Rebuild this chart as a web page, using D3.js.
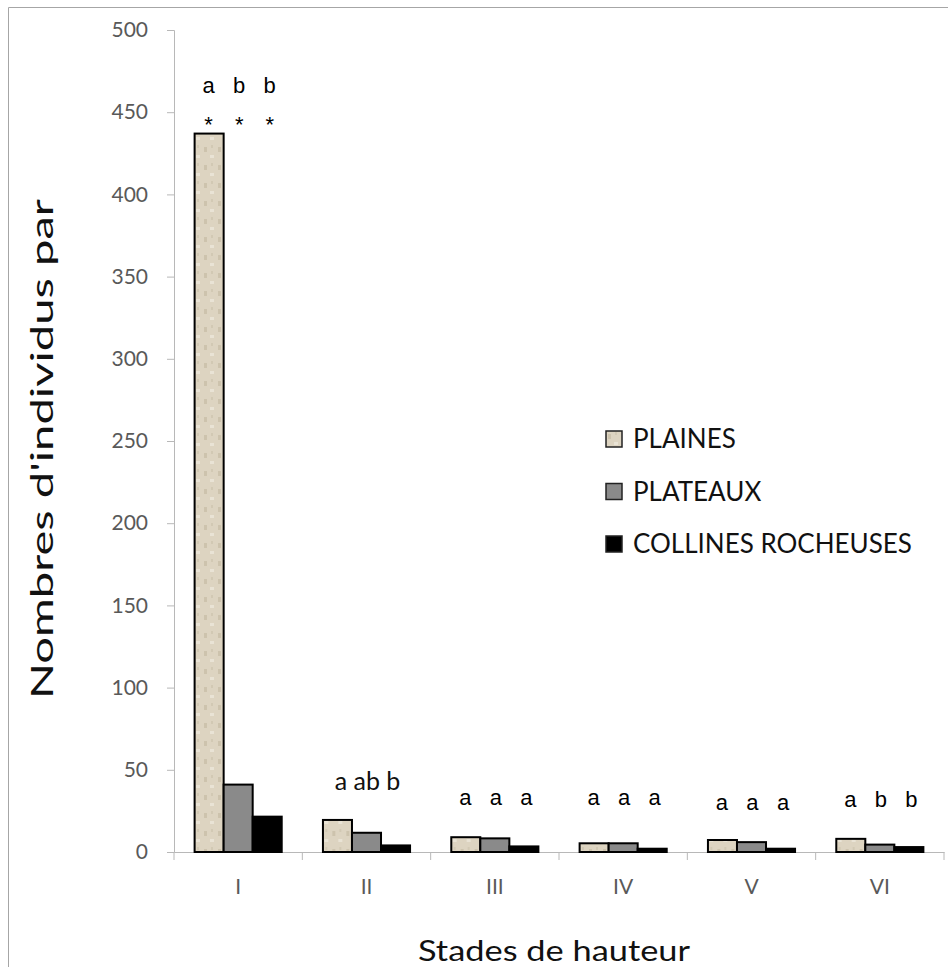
<!DOCTYPE html>
<html>
  <head>
    <meta charset="utf-8">
    <title>Stades de hauteur</title>
    <script src="https://cdn.jsdelivr.net/npm/d3@7"></script>
    <style>
      body { margin: 0; background: #fff; }
      svg text { font-family: Lato, "Open Sans", sans-serif; }
      .axis path, .axis line { stroke: #b8b8b8; }
      .axis text { fill: #595959; font-size: 21px; }
      .letters text { font-family: "Liberation Sans", Arial, sans-serif; font-size: 22px; fill: #000; }
      .letters text.joined { font-family: Lato, sans-serif; font-size: 25px; fill: #111; }
    </style>
  </head>
  <body>
    <svg id="chart" width="948" height="967"></svg>
    <script>
      // data
      stades = ["I", "II", "III", "IV", "V", "VI"];
      series = ["PLAINES", "PLATEAUX", "COLLINES ROCHEUSES"];
      plaines = [437, 19.5, 9, 5.3, 7.3, 8];
      plateaux = [41, 11.7, 8.3, 5.3, 6, 4.5];
      collines = [21.5, 4, 3.4, 2, 2, 3];
      yTicks = [0, 50, 100, 150, 200, 250, 300, 350, 400, 450, 500];
      letters = [["a", "b", "b"], ["a ab b"], ["a", "a", "a"], ["a", "a", "a"], ["a", "a", "a"], ["a", "b", "b"]];
      letterLevel = [461.5, 37.7, 28.6, 28.6, 25.5, 27.4];
      stars = ["*", "*", "*"];
      starLevel = 443;
      colours = ["url(#sand)", "#8a8a8a", "#000000"];

      values = [plaines, plateaux, collines];

      chart = d3.select("#chart");

      // sandy fill for the plains bars
      pattern = chart.append("defs")
        .append("pattern")
          .attr("id", "sand")
          .attr("patternUnits", "userSpaceOnUse")
          .attr("width", 14)
          .attr("height", 18);
      pattern.append("rect")
        .attr("width", 14)
        .attr("height", 18)
        .attr("fill", "#ddd4c1");
      pattern.append("rect")
        .attr("x", 2).attr("y", 3).attr("width", 3).attr("height", 5)
        .attr("fill", "#cdc3ad");
      pattern.append("rect")
        .attr("x", 8).attr("y", 11).attr("width", 4).attr("height", 3)
        .attr("fill", "#e9e3d5");
      pattern.append("rect")
        .attr("x", 9).attr("y", 1).attr("width", 2).attr("height", 3)
        .attr("fill", "#d2c9b4");

      // frame
      chart.append("path")
        .attr("d", "M8.5,967V7.5H948")
        .attr("fill", "none")
        .attr("stroke", "#a6a6a6");

      // scales
      scaleX = d3.scaleBand()
        .domain(stades)
        .range([174, 944]);

      scaleSeries = d3.scaleBand()
        .domain(series)
        .range([0, scaleX.bandwidth()])
        .paddingOuter(0.71);

      scaleY = d3.scaleLinear()
        .domain([0, 500])
        .range([852, 30]);

      // axes
      yAxisGroup = chart.append("g")
        .attr("class", "axis")
        .attr("transform", "translate(174, 0)")
        .call(d3.axisLeft(scaleY).tickValues(yTicks).tickSize(7).tickSizeOuter(7).tickPadding(19));

      xAxisGroup = chart.append("g")
        .attr("class", "axis")
        .attr("transform", "translate(0, 852)")
        .call(d3.axisBottom(scaleX).tickSize(0).tickSizeOuter(0).tickPadding(27));

      xAxisGroup.selectAll(".bound")
          .data(d3.range(stades.length + 1))
        .enter().append("line")
          .attr("class", "bound")
          .attr("x1", d => d < stades.length ? scaleX(stades[d]) : scaleX.range()[1])
          .attr("x2", d => d < stades.length ? scaleX(stades[d]) : scaleX.range()[1])
          .attr("y1", 0)
          .attr("y2", 8);

      // bars
      groups = chart.append("g")
        .selectAll("g")
          .data(stades)
        .enter().append("g")
          .attr("transform", d => "translate(" + scaleX(d) + ", 0)");

      groups.selectAll("rect")
          .data((d, i) => series.map((s, j) => ({ s: s, v: values[j][i], j: j })))
        .enter().append("rect")
          .attr("x", d => scaleSeries(d.s))
          .attr("width", scaleSeries.bandwidth())
          .attr("y", d => scaleY(d.v))
          .attr("height", d => scaleY(0) - scaleY(d.v))
          .attr("fill", d => colours[d.j])
          .attr("stroke", "#000")
          .attr("stroke-width", 2);

      // significance letters
      letterGroups = chart.append("g")
        .attr("class", "letters")
        .selectAll("g")
          .data(stades)
        .enter().append("g")
          .attr("transform", d => "translate(" + scaleX(d) + ", 0)");

      letterGroups.selectAll("text.l")
          .data((d, i) => letters[i].map(t => ({ t: t, i: i, n: letters[i].length })))
        .enter().append("text")
          .attr("class", d => d.n == 1 ? "l joined" : "l")
          .attr("x", (d, k) => d.n == 1 ? scaleX.bandwidth() / 2 + 1 : scaleSeries(series[k]) + scaleSeries.bandwidth() / 2 + 1 + (k - 1) * 1.5)
          .attr("y", d => scaleY(letterLevel[d.i]))
          .attr("text-anchor", "middle")
          .text(d => d.t);

      letterGroups.filter((d, i) => i == 0)
        .selectAll("text.s")
          .data(stars)
        .enter().append("text")
          .attr("class", "s")
          .attr("x", (d, k) => scaleSeries(series[k]) + scaleSeries.bandwidth() / 2 + 1 + (k - 1) * 1.5)
          .attr("y", scaleY(starLevel) + 8)
          .attr("text-anchor", "middle")
          .text(d => d);

      // legend
      legend = chart.append("g")
        .selectAll("g")
          .data(series)
        .enter().append("g")
          .attr("transform", (d, i) => "translate(606, " + (431 + i * 52.5) + ")");

      legend.append("rect")
        .attr("width", 16)
        .attr("height", 16)
        .attr("fill", (d, i) => colours[i])
        .attr("stroke", "#222")
        .attr("stroke-width", 1.5);

      legend.append("text")
        .attr("x", 27)
        .attr("y", 17)
        .attr("font-size", "26px")
        .attr("fill", "#111")
        .text(d => d);

      // titles
      chart.append("text")
        .attr("transform", "translate(53, 449) rotate(-90)")
        .attr("text-anchor", "middle")
        .attr("font-size", "31px")
        .attr("fill", "#111")
        .attr("textLength", 500)
        .attr("lengthAdjust", "spacingAndGlyphs")
        .text("Nombres d'individus par");

      chart.append("text")
        .attr("x", 554)
        .attr("y", 961)
        .attr("text-anchor", "middle")
        .attr("font-size", "29px")
        .attr("fill", "#111")
        .attr("textLength", 272)
        .attr("lengthAdjust", "spacingAndGlyphs")
        .text("Stades de hauteur");
    </script>
  </body>
</html>
